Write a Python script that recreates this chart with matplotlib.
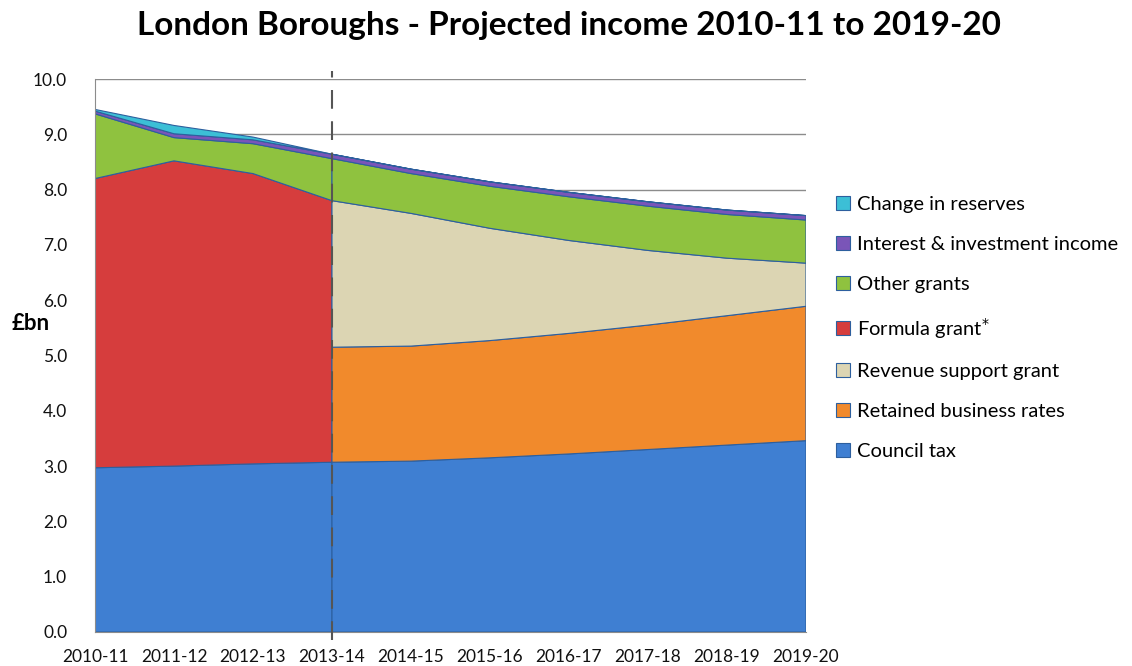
import numpy as np
import matplotlib
matplotlib.use("Agg")
import matplotlib.pyplot as plt

plt.rcParams['font.family'] = ['Lato', 'DejaVu Sans']

# Projected income, £bn
years = ['2010-11', '2011-12', '2012-13', '2013-14', '2014-15',
         '2015-16', '2016-17', '2017-18', '2018-19', '2019-20']
council_tax = [2.97, 3.00, 3.04, 3.07, 3.09, 3.15, 3.22, 3.30, 3.38, 3.46]
formula_grant = [5.23, 5.52, 5.25, 4.73, np.nan, np.nan, np.nan, np.nan, np.nan, np.nan]
retained_rates = [np.nan, np.nan, np.nan, 2.08, 2.08, 2.12, 2.18, 2.25, 2.34, 2.43]
revenue_support = [np.nan, np.nan, np.nan, 2.65, 2.40, 2.03, 1.68, 1.35, 1.04, 0.78]
other_grants = [1.17, 0.42, 0.54, 0.76, 0.72, 0.76, 0.79, 0.80, 0.79, 0.78]
interest = [0.05, 0.07, 0.07, 0.08, 0.08, 0.08, 0.08, 0.08, 0.08, 0.08]
reserves = [0.03, 0.15, 0.05, 0.00, 0.00, 0.00, 0.00, 0.00, 0.00, 0.00]

split = years.index('2013-14')  # formula grant replaced from here on

colours = {
    'Council tax': '#3f7fd2',
    'Retained business rates': '#f18a2c',
    'Revenue support grant': '#dcd5b3',
    'Formula grant': '#d63d3d',
    'Other grants': '#8fc23f',
    'Interest & investment income': '#7a55b8',
    'Change in reserves': '#3cbfd6',
}
edges = {
    'Council tax': '#2d5f9e',
    'Retained business rates': '#a4521a',
    'Revenue support grant': '#8e8a72',
    'Formula grant': '#8e2626',
    'Other grants': '#5d8126',
    'Interest & investment income': '#4b3277',
    'Change in reserves': '#2a8697',
}

x = np.arange(len(years))
fig = plt.figure(figsize=(11.32, 6.66), dpi=100)
ax = fig.add_axes([95 / 1132, 1 - 632 / 666, (806 - 95) / 1132, (632 - 79) / 666])


def stack(idx, series):
    names = [n for n, _ in series]
    data = [np.asarray(v, dtype=float)[idx] for _, v in series]
    polys = ax.stackplot(x[idx], *data,
                         colors=[colours[n] for n in names],
                         edgecolor=[edges[n] for n in names],
                         linewidth=0.8, zorder=2)
    return dict(zip(names, polys))


early = np.arange(0, split + 1)
late = np.arange(split, len(years))

handles = {}
handles.update(stack(early, [('Council tax', council_tax),
                             ('Formula grant', formula_grant),
                             ('Other grants', other_grants),
                             ('Interest & investment income', interest),
                             ('Change in reserves', reserves)]))
handles.update(stack(late, [('Council tax', council_tax),
                            ('Retained business rates', retained_rates),
                            ('Revenue support grant', revenue_support),
                            ('Other grants', other_grants),
                            ('Interest & investment income', interest),
                            ('Change in reserves', reserves)]))

ax.axvline(split, ymin=-0.015, ymax=1.015, color='#555555', lw=1.5,
           dashes=(9, 6), clip_on=False, zorder=4)

ax.set_xlim(0, len(years) - 1)
ax.set_ylim(0, 10)
ax.set_yticks(np.arange(0, 10.5, 1.0))
ax.set_yticklabels([f'{v:.1f}' for v in np.arange(0, 10.5, 1.0)])
ax.set_xticks(x)
ax.set_xticklabels(years)
ax.tick_params(axis='both', length=0, labelsize=12.5, colors='#111111')
ax.tick_params(axis='x', pad=12)
ax.tick_params(axis='y', pad=20)
ax.grid(axis='y', color='#8c8c8c', lw=1.0, zorder=0)
ax.set_axisbelow(True)
for s in ['top', 'right']:
    ax.spines[s].set_visible(False)
for s in ['left', 'bottom']:
    ax.spines[s].set_color('#8c8c8c')

fig.text(0.503, 1 - 25 / 666, 'London Boroughs - Projected income 2010-11 to 2019-20',
         ha='center', va='center', fontsize=24, fontweight='bold')
fig.text(12 / 1132, 1 - 323 / 666, '£bn', ha='left', va='center',
         fontsize=16, fontweight='bold')

order = ['Change in reserves', 'Interest & investment income', 'Other grants',
         'Formula grant', 'Revenue support grant', 'Retained business rates',
         'Council tax']
labels = [n if n != 'Formula grant' else 'Formula grant$^{*}$' for n in order]
fig.legend([handles[n] for n in order], labels, loc='upper left',
           bbox_to_anchor=(818 / 1132, 1 - 178 / 666), frameon=False,
           fontsize=14.5, handlelength=0.7, handleheight=0.7,
           handletextpad=0.35, labelspacing=1.13)

fig.savefig('out.png', dpi=100)
